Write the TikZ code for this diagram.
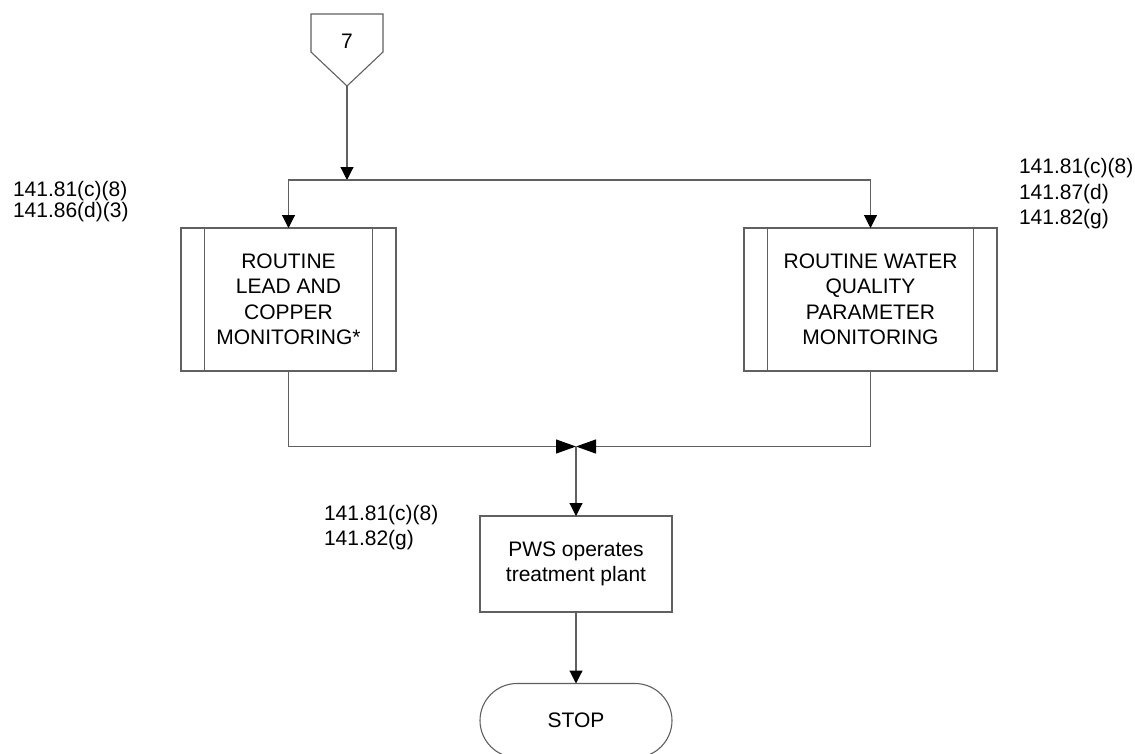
\documentclass[tikz,border=0pt]{standalone}
\usepackage{fontspec}
\setmainfont{Liberation Sans}
\usetikzlibrary{arrows.meta, positioning, calc}
\definecolor{linegray}{RGB}{96,96,96}

\begin{document}
\begin{tikzpicture}[x=1pt, y=-1pt,
  every node/.style={font=\fontsize{21pt}{25.5pt}\selectfont, inner sep=0pt, outer sep=0pt},
  box/.style={draw=linegray, line width=1.1pt, align=center},
  subproc/.style={box, minimum height=143pt},
  refnote/.style={anchor=west, align=left},
  flow/.style={draw=linegray, line width=1.1pt, -{Triangle[length=13pt, width=13pt, color=black]}},
  mergeflow/.style={draw=linegray, line width=1.1pt, -{Triangle[length=20pt, width=14pt, color=black]}}]
  \useasboundingbox (0,0) rectangle (1135,753);
  % off-page connector
  \draw[linegray, line width=1.1pt] (311,14) -- (383,14) -- (383,52) -- (347,86) -- (311,52) -- cycle;
  \node (seven) at (347,41) {7};
  \coordinate (offpt) at (347,86);
  \coordinate (split) at (347,180);
  % predefined processes
  \node[subproc, minimum width=215pt] (lcr) at (288.5,299.5) {ROUTINE\\LEAD AND\\COPPER\\MONITORING*};
  \node[subproc, minimum width=253pt] (wqp) at (870.5,299.5) {ROUTINE WATER\\QUALITY\\PARAMETER\\MONITORING};
  \foreach \n in {lcr, wqp} {
    \draw[linegray, line width=1.1pt] ([xshift=23.5pt]\n.north west) -- ([xshift=23.5pt]\n.south west);
    \draw[linegray, line width=1.1pt] ([xshift=-23.5pt]\n.north east) -- ([xshift=-23.5pt]\n.south east);
  }
  \node[refnote, font=\fontsize{21pt}{21pt}\selectfont] (lcrref) at (13,202) {141.81(c)(8)\\141.86(d)(3)};
  \node[refnote] (wqpref) at (1019,194) {141.81(c)(8)\\141.87(d)\\141.82(g)};
  % treatment plant and stop
  \coordinate (merge) at (576,446.5);
  \node[box, minimum width=192pt, minimum height=96pt] (pws) at (576,564) {PWS operates\\treatment plant};
  \node[refnote] (pwsref) at (324,527.5) {141.81(c)(8)\\141.82(g)};
  \node[box, rounded corners=37pt, minimum width=192pt, minimum height=74pt] (stop) at (576,720.5) {STOP};
  % connectors
  \draw[flow] (offpt) -- (split);
  \draw[flow] (split) -| (lcr.north);
  \draw[flow] (split) -| (wqp.north);
  \draw[mergeflow] (lcr.south) |- (merge);
  \draw[mergeflow] (wqp.south) |- (merge);
  \draw[flow] (merge) -- (pws.north);
  \draw[flow] (pws.south) -- (stop.north);
\end{tikzpicture}
\end{document}
